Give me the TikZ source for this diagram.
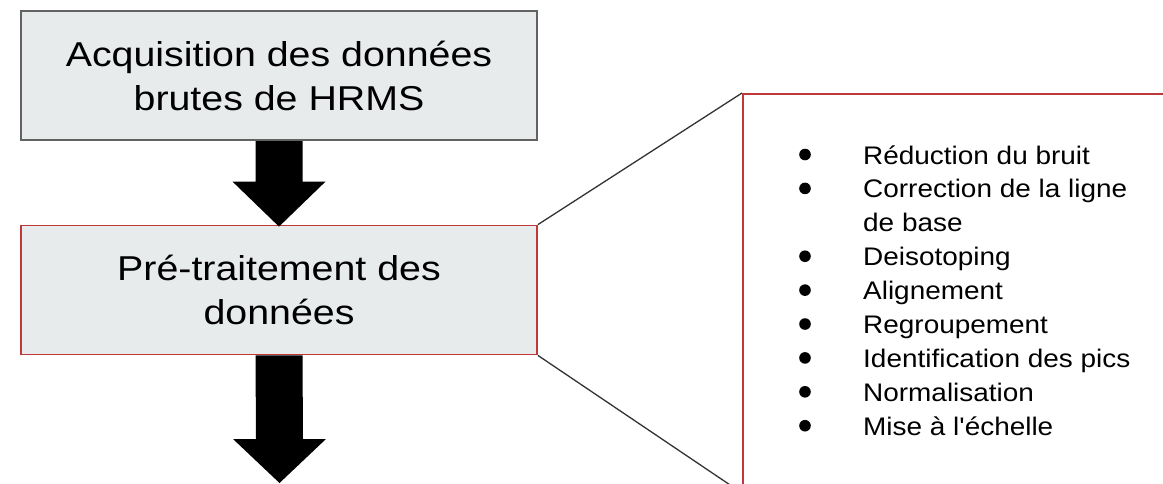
\documentclass[tikz,border=0pt]{standalone}
\usepackage{fontspec}
\setmainfont{Liberation Sans}
\newfontfamily\boxfont[FakeStretch=1.14]{Liberation Sans}
\newfontfamily\listfont[FakeStretch=1.10]{Liberation Sans}
\usetikzlibrary{calc}
\definecolor{boxgrey}{HTML}{E8EBEC}
\definecolor{boxedge}{HTML}{626262}
\definecolor{redge}{HTML}{C0393A}
\definecolor{linegrey}{HTML}{333333}
\tikzset{
  stepbox/.style={rectangle, fill=boxgrey, line width=1.8pt, minimum width=516pt,
    minimum height=129pt, inner sep=0pt, align=center,
    font=\boxfont\fontsize{34.5}{44.5}\selectfont},
  greyedge/.style={draw=boxedge},
  rededge/.style={draw=redge},
  detailbox/.style={draw=redge, line width=2pt},
  blockarrow/.style={fill=black},
  zoomline/.style={draw=linegrey, line width=1.3pt},
  listitem/.style={anchor=base west, inner sep=0pt, font=\listfont\fontsize{25.4}{33.9}\selectfont},
  bulletdot/.style={fill=black}
}
\begin{document}
\begin{tikzpicture}[x=1pt,y=-1pt]
\useasboundingbox (0,0) rectangle (1163,483);
\clip (0,0) rectangle (1163,483);
\fill[white] (0,0) rectangle (1163,483);

% boxes
\node[stepbox, greyedge] (b1) at (279,75.8) {Acquisition des données\\brutes de HRMS};
\node[stepbox, rededge] (b2) at (279,290) {Pré-traitement des\\données};
\coordinate (end) at (279.5,483);

% detail box
\node[detailbox, rectangle, minimum width=440pt, minimum height=398pt, anchor=north west, inner sep=0pt] (detail) at (742,93) {};

% zoom lines
\draw[zoomline] (b2.north east) -- (detail.north west);
\draw[zoomline] (b2.south east) -- (detail.south west);

% block arrows
\fill[blockarrow] ($(b1.south)+(-23.5,0)$) -- ($(b2.north)+(-23.5,-43)$) -- ($(b2.north)+(-46.5,-43)$)
  -- ($(b2.north)+(0,2)$) -- ($(b2.north)+(46.5,-43)$) -- ($(b2.north)+(23.5,-43)$)
  -- ($(b1.south)+(23.5,0)$) -- cycle;
\fill[blockarrow] ($(b2.south)+(-23.5,0)$) -- ($(end)+(-23.5,-44)$) -- ($(end)+(-46.5,-44)$)
  -- (end) -- ($(end)+(46.5,-44)$) -- ($(end)+(23.5,-44)$)
  -- ($(b2.south)+(23.5,0)$) -- cycle;

% list
\node[listitem] (i1) at (863,164) {Réduction du bruit};
\node[listitem] (i2) at (863,197.9) {Correction de la ligne};
\node[listitem] (i2b) at (863,231.8) {de base};
\node[listitem] (i3) at (863,265.7) {Deisotoping};
\node[listitem] (i4) at (863,299.6) {Alignement};
\node[listitem] (i5) at (863,333.5) {Regroupement};
\node[listitem] (i6) at (863,367.4) {Identification des pics};
\node[listitem] (i7) at (863,401.3) {Normalisation};
\node[listitem] (i8) at (863,435.2) {Mise à l'échelle};
\foreach \y in {164,197.9,265.7,299.6,333.5,367.4,401.3,435.2}
  \fill[bulletdot] (805,\y-9.5) circle (5.8pt);
\end{tikzpicture}
\end{document}
